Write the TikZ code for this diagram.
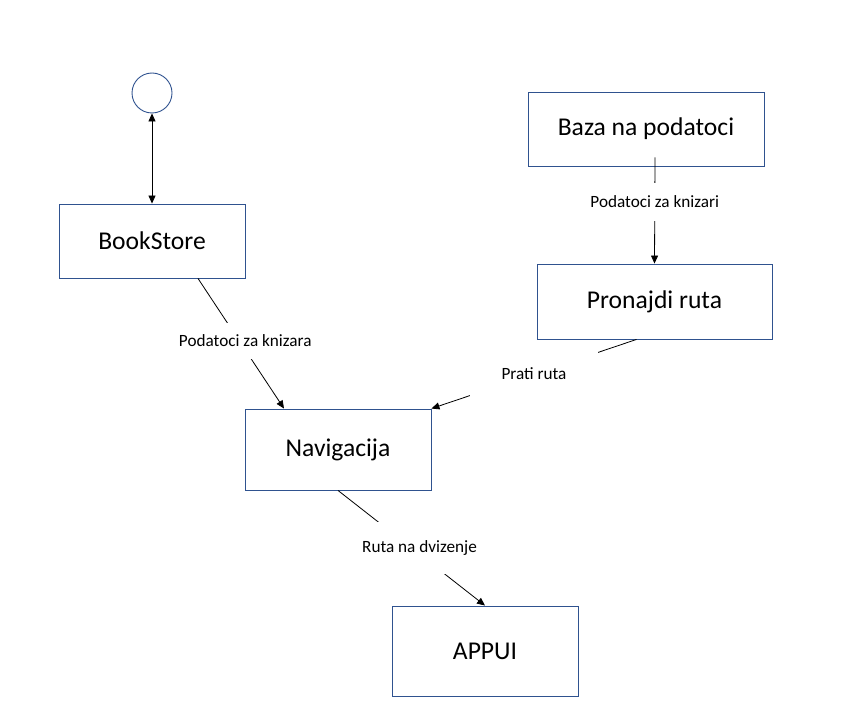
\documentclass[tikz,border=0pt]{standalone}
\usepackage{fontspec}
\setmainfont{Carlito}
\usetikzlibrary{arrows.meta}
\definecolor{boxblue}{RGB}{47,82,143}
\begin{document}
\begin{tikzpicture}[x=1pt,y=-1pt,>={Triangle[length=8pt,width=7pt]},
    box/.style={draw=boxblue,line width=0.9pt,font=\fontsize{25.6}{30}\selectfont,inner sep=0pt},
    lbl/.style={fill=white,font=\fontsize{17.2}{20}\selectfont,inner sep=0pt}]
      \useasboundingbox (0,0) rectangle (858,719);
      \node[draw=boxblue,circle,line width=0.9pt,minimum size=40pt,inner sep=0pt](S) at(152,93){};
      \node[box,minimum width=186pt,minimum height=74pt](B) at(152,241){BookStore};
      \node[box,minimum width=236pt,minimum height=74pt](D) at(646,129){Baza na podatoci};
      \node[box,minimum width=235pt,minimum height=75pt](R) at(654.5,301.5){Pronajdi ruta};
      \node[box,minimum width=186pt,minimum height=81pt](N) at(338,449.5){Navigacija};
      \node[box,minimum width=186pt,minimum height=90pt](A) at(485,651){APPUI};
      \coordinate(B1) at([xshift=46pt]B.south);
      \coordinate(N1) at([xshift=-54pt]N.north);
      \coordinate(D1) at([xshift=9pt,yshift=9pt]D.south);
      \coordinate(R1) at(R.north);
      \coordinate(R2) at([xshift=-18pt]R.south);
      \coordinate(N2) at(N.north east);
      \coordinate(N3) at(N.south);
      \coordinate(A1) at(A.north);
      \draw[<->,line width=0.8pt](S)--(B);
      \foreach \x/\y/\p/\s/\w/\h/\t in {B1/N1/0.48/6/0/36/Podatoci za knizara, D1/R1/0.42/0/0/38/Podatoci za knizari,
          R2/N2/0.5/0/128/50/Prati ruta, N3/A1/0.5/8/0/52/Ruta na dvizenje}{
        \draw[->,line width=0.8pt](\x)--(\y)node[lbl,pos=\p,xshift=\s,minimum width=\w,minimum height=\h]{\t};
      }
    \end{tikzpicture}
\end{document}
